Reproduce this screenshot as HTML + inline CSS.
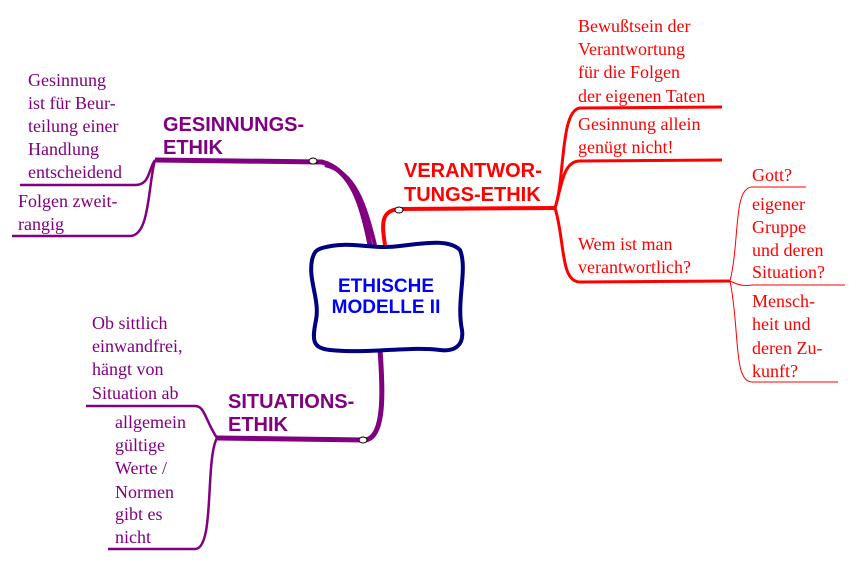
<!DOCTYPE html>
<html><head><meta charset="utf-8"><style>
html,body{margin:0;padding:0;background:#fff}
svg{display:block}
.sf{font-family:"Liberation Serif","Times New Roman","Nimbus Roman",serif;font-size:18px}
</style></head><body>
<svg width="856" height="569" viewBox="0 0 856 569" xmlns="http://www.w3.org/2000/svg">
<path d="M370 245 C362 205 352 170 322 162 L155 160" fill="none" stroke="#800080" stroke-width="5"/>
<path d="M375 245 C365 205 355 172 325 165" fill="none" stroke="#800080" stroke-width="4"/>
<path d="M155 160 C148 170 150 185 135 185 L20 185" fill="none" stroke="#800080" stroke-width="2.5"/>
<path d="M155 160 C148 185 150 236 130 236 L12 236" fill="none" stroke="#800080" stroke-width="2.5"/>
<ellipse cx="313" cy="161" rx="4" ry="3" fill="#fff" stroke="#000" stroke-width="1"/>
<path d="M385 245 C382 225 380 210 400 209 L555 208" fill="none" stroke="#FF0000" stroke-width="4"/>
<path d="M555 208 C565 180 560 110 580 108 L722 107" fill="none" stroke="#FF0000" stroke-width="3"/>
<path d="M555 208 C562 185 563 161 580 161 L722 160" fill="none" stroke="#FF0000" stroke-width="3"/>
<path d="M555 208 C565 240 560 282 580 282 L730 281" fill="none" stroke="#FF0000" stroke-width="3"/>
<path d="M730 281 C740 240 733 188 752 187 L806 187" fill="none" stroke="#FF0000" stroke-width="1"/>
<path d="M730 281 C740 286 745 286 752 285 L845 285" fill="none" stroke="#FF0000" stroke-width="1"/>
<path d="M730 281 C740 330 733 382 752 382 L838 382" fill="none" stroke="#FF0000" stroke-width="1"/>
<ellipse cx="399" cy="210" rx="4" ry="3" fill="#fff" stroke="#000" stroke-width="1"/>
<path d="M380 350 C383 390 385 438 365 440 L217 438" fill="none" stroke="#800080" stroke-width="5"/>
<path d="M217 438 C205 420 205 406 195 406 L86 406" fill="none" stroke="#800080" stroke-width="2.5"/>
<path d="M217 438 C205 460 215 549 195 549 L108 549" fill="none" stroke="#800080" stroke-width="2.5"/>
<ellipse cx="363" cy="440" rx="4" ry="3" fill="#fff" stroke="#000" stroke-width="1"/>
<path d="M322 248 C350 240 370 250 400 246 C430 242 450 240 460 250 C468 270 456 300 462 330 C464 345 455 352 440 350 C410 346 370 354 330 350 C312 348 312 340 316 320 C320 300 308 280 312 260 C314 252 316 250 322 248 Z" fill="#fff" stroke="#000080" stroke-width="4"/>
<g style="font-family:'Liberation Sans',sans-serif;font-weight:bold;font-size:19px" fill="#0000FF">
<text x="386" y="292" text-anchor="middle">ETHISCHE</text>
<text x="386" y="313" text-anchor="middle">MODELLE II</text>
</g>
<g style="font-family:'Liberation Sans',sans-serif;font-weight:bold;font-size:20px" fill="#800080">
<text x="163" y="131">GESINNUNGS-</text>
<text x="163" y="154">ETHIK</text>
<text x="228" y="408">SITUATIONS-</text>
<text x="228" y="431">ETHIK</text>
</g>
<g style="font-family:'Liberation Sans',sans-serif;font-weight:bold;font-size:20px" fill="#FF0000">
<text x="404" y="177">VERANTWOR-</text>
<text x="404" y="201">TUNGS-ETHIK</text>
</g>
<g fill="#800080">
<text class="sf" x="28" y="86">Gesinnung</text>
<text class="sf" x="28" y="109">ist für Beur-</text>
<text class="sf" x="28" y="132">teilung einer</text>
<text class="sf" x="28" y="155">Handlung</text>
<text class="sf" x="28" y="178">entscheidend</text>
<text class="sf" x="18" y="207">Folgen zweit-</text>
<text class="sf" x="18" y="230">rangig</text>
<text class="sf" x="92" y="329">Ob sittlich</text>
<text class="sf" x="92" y="352">einwandfrei,</text>
<text class="sf" x="92" y="375">hängt von</text>
<text class="sf" x="92" y="399">Situation ab</text>
<text class="sf" x="115" y="428">allgemein</text>
<text class="sf" x="115" y="451">gültige</text>
<text class="sf" x="115" y="474">Werte /</text>
<text class="sf" x="115" y="498">Normen</text>
<text class="sf" x="115" y="520">gibt es</text>
<text class="sf" x="115" y="543">nicht</text>
</g>
<g fill="#FF0000">
<text class="sf" x="578" y="32">Bewußtsein der</text>
<text class="sf" x="578" y="55">Verantwortung</text>
<text class="sf" x="578" y="78">für die Folgen</text>
<text class="sf" x="578" y="102">der eigenen Taten</text>
<text class="sf" x="578" y="130">Gesinnung allein</text>
<text class="sf" x="578" y="153">genügt nicht!</text>
<text class="sf" x="578" y="250">Wem ist man</text>
<text class="sf" x="578" y="273">verantwortlich?</text>
<text class="sf" x="752" y="181">Gott?</text>
<text class="sf" x="752" y="210">eigener</text>
<text class="sf" x="752" y="233">Gruppe</text>
<text class="sf" x="752" y="256">und deren</text>
<text class="sf" x="752" y="278">Situation?</text>
<text class="sf" x="752" y="307">Mensch-</text>
<text class="sf" x="752" y="330">heit und</text>
<text class="sf" x="752" y="354">deren Zu-</text>
<text class="sf" x="752" y="377">kunft?</text>
</g>
</svg>
</body></html>
